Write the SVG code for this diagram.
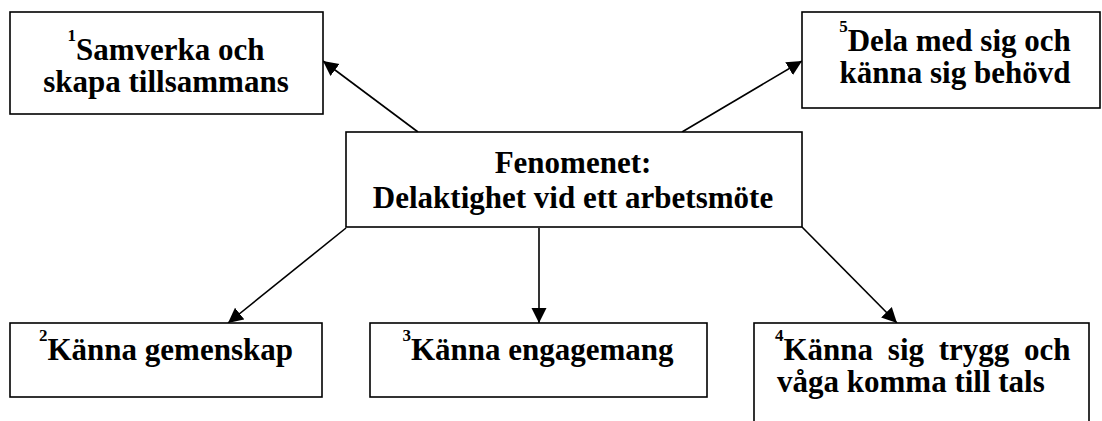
<svg xmlns="http://www.w3.org/2000/svg" width="1102" height="421" viewBox="0 0 1102 421">
<style>
.box{fill:#fff;stroke:#000;stroke-width:1.6}
.t{font-family:"Liberation Serif","Times New Roman",serif;font-weight:bold;font-size:31px;fill:#000}
.c{text-anchor:middle}
.sup{font-size:17px}
.con{stroke:#000;stroke-width:1.6;fill:none;marker-end:url(#ah)}
</style>
<defs>
<marker id="ah" markerUnits="userSpaceOnUse" markerWidth="16" markerHeight="16" viewBox="0 0 16 16" refX="15" refY="8" orient="auto">
<path d="M0,0.5 L15,8 L0,15.5 Z" fill="#000"/>
</marker>
</defs>
<g id="connectors">
<line class="con" x1="418" y1="132" x2="323" y2="61"/>
<line class="con" x1="682" y1="132" x2="802" y2="61"/>
<line class="con" x1="346" y1="228" x2="228" y2="323"/>
<line class="con" x1="539" y1="228" x2="539" y2="323"/>
<line class="con" x1="802" y1="227" x2="897" y2="323"/>
</g>
<g id="n1">
<rect class="box" x="10" y="12" width="313" height="102"/>
<text class="t c" x="166" y="60"><tspan class="sup" dy="-19">1</tspan><tspan dy="19">Samverka och</tspan><tspan x="166" dy="32">skapa tillsammans</tspan></text>
</g>
<g id="n5">
<rect class="box" x="802" y="12" width="298" height="96"/>
<text class="t c" x="955" y="51"><tspan class="sup" dy="-19">5</tspan><tspan dy="19">Dela med sig och</tspan><tspan x="955" dy="32">känna sig behövd</tspan></text>
</g>
<g id="center">
<rect class="box" x="346" y="132" width="456" height="95"/>
<text class="t c" x="573" y="173">Fenomenet:<tspan x="573" dy="35">Delaktighet vid ett arbetsmöte</tspan></text>
</g>
<g id="n2">
<rect class="box" x="10" y="323" width="312" height="74"/>
<text class="t c" x="166" y="360"><tspan class="sup" dy="-19">2</tspan><tspan dy="19">Känna gemenskap</tspan></text>
</g>
<g id="n3">
<rect class="box" x="370" y="323" width="337" height="74"/>
<text class="t c" x="538" y="360"><tspan class="sup" dy="-19">3</tspan><tspan dy="19">Känna engagemang</tspan></text>
</g>
<g id="n4">
<rect class="box" x="754" y="323" width="335" height="100"/>
<text class="t" x="775" y="360"><tspan class="sup" dy="-19">4</tspan><tspan dy="19" word-spacing="7">Känna sig trygg och</tspan><tspan x="777" dy="32">våga komma till tals</tspan></text>
</g>
</svg>
